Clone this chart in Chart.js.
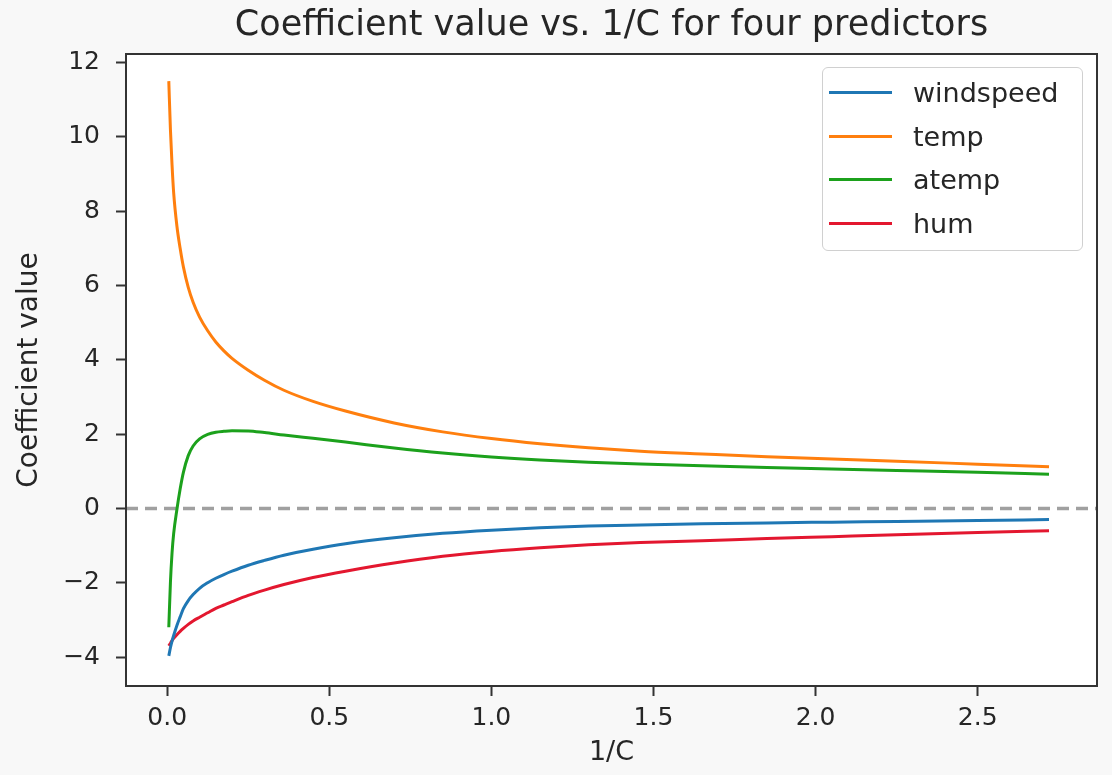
<!DOCTYPE html>
<html>
<head>
<meta charset="utf-8">
<script src="https://cdn.jsdelivr.net/npm/chart.js@4.4.1/dist/chart.umd.min.js"></script>
<style>
  html, body { margin: 0; padding: 0; background: #f8f8f8; }
  #wrap { position: relative; width: 1112px; height: 775px; }
  #title {
    position: absolute; left: 126px; width: 971px; top: 2px; height: 42px; line-height: 42px;
    text-align: center; white-space: nowrap;
    font-family: "DejaVu Sans", sans-serif; font-size: 35px; color: #262626;
  }
  #legend {
    position: absolute; left: 822px; top: 67px; width: 261px; height: 184px;
    box-sizing: border-box; border: 1px solid #d0d0d0; border-radius: 6px;
    background: rgba(255,255,255,0.85); padding-top: 3px;
    font-family: "DejaVu Sans", sans-serif; font-size: 27px; color: #262626;
  }
  .row { height: 43.5px; display: flex; align-items: center; }
  .swatch { width: 63px; height: 3px; margin-left: 6px; margin-right: 21px; }
</style>
</head>
<body>
<div id="wrap">
  <canvas id="c" width="1112" height="775"></canvas>
  <div id="title"></div>
  <div id="legend"></div>
</div>
<script>
const titleText = "Coefficient value vs. 1/C for four predictors";
const xTitle = "1/C";
const yTitle = "Coefficient value";

const xValues = [0.005, 0.01, 0.015, 0.02, 0.03, 0.04, 0.05, 0.065, 0.08, 0.1, 0.125, 0.15, 0.175, 0.2, 0.25, 0.3, 0.36, 0.45, 0.55, 0.7, 0.85, 1.0, 1.15, 1.3, 1.46, 1.65, 1.85, 2.05, 2.25, 2.5, 2.72];

const windspeed = [-3.97, -3.75, -3.57, -3.42, -3.15, -2.92, -2.70, -2.48, -2.32, -2.15, -2.0, -1.88, -1.78, -1.69, -1.53, -1.40, -1.26, -1.10, -0.95, -0.79, -0.67, -0.585, -0.52, -0.475, -0.445, -0.415, -0.39, -0.37, -0.35, -0.325, -0.30];
const temp = [11.5, 10.2, 9.25, 8.5, 7.6, 7.0, 6.5, 5.95, 5.55, 5.15, 4.78, 4.48, 4.24, 4.04, 3.72, 3.45, 3.18, 2.88, 2.62, 2.3, 2.06, 1.88, 1.74, 1.63, 1.54, 1.465, 1.39, 1.33, 1.27, 1.19, 1.12];
const atemp = [-3.2, -2.0, -1.2, -0.68, -0.03, 0.52, 0.97, 1.42, 1.68, 1.87, 1.99, 2.05, 2.075, 2.09, 2.085, 2.04, 1.975, 1.885, 1.785, 1.625, 1.49, 1.385, 1.305, 1.245, 1.195, 1.145, 1.10, 1.06, 1.02, 0.97, 0.92];
const hum = [-3.7, -3.63, -3.56, -3.5, -3.4, -3.31, -3.23, -3.12, -3.03, -2.93, -2.81, -2.69, -2.6, -2.51, -2.34, -2.2, -2.05, -1.86, -1.69, -1.47, -1.29, -1.16, -1.06, -0.98, -0.92, -0.87, -0.81, -0.76, -0.71, -0.65, -0.6];

const seriesNames = ["windspeed", "temp", "atemp", "hum"];
const seriesColors = ["#1f77b4", "#ff7f0e", "#1ca11c", "#e3172f"];
const seriesData = [windspeed, temp, atemp, hum];

const xTicks = [0, 0.5, 1.0, 1.5, 2.0, 2.5];
const yTicks = [-4, -2, 0, 2, 4, 6, 8, 10, 12];
const refLineValue = 0;

const FONT = "'DejaVu Sans', sans-serif";
const TEXT = "#262626";
const AXIS = "#333333";

document.getElementById('title').textContent = titleText;

const datasets = seriesNames.map((name, i) => ({
  label: name,
  data: xValues.map((x, j) => ({ x: x, y: seriesData[i][j] })),
  borderColor: seriesColors[i],
  backgroundColor: seriesColors[i],
  borderWidth: 3,
  pointRadius: 0,
  cubicInterpolationMode: 'monotone',
  fill: false
}));

const framePlugin = {
  id: 'frame',
  beforeDraw(chart) {
    const { ctx, chartArea: a } = chart;
    ctx.save();
    ctx.fillStyle = '#ffffff';
    ctx.fillRect(a.left, a.top, a.right - a.left, a.bottom - a.top);
    ctx.restore();
  },
  beforeDatasetsDraw(chart) {
    const { ctx, chartArea: a, scales } = chart;
    const y = scales.y.getPixelForValue(refLineValue);
    ctx.save();
    ctx.strokeStyle = '#a0a0a0';
    ctx.lineWidth = 3.5;
    ctx.setLineDash([12, 7]);
    ctx.beginPath();
    ctx.moveTo(a.left, y);
    ctx.lineTo(a.right, y);
    ctx.stroke();
    ctx.restore();
  },
  afterDraw(chart) {
    const { ctx, chartArea: a } = chart;
    ctx.save();
    ctx.strokeStyle = AXIS;
    ctx.lineWidth = 2;
    ctx.strokeRect(a.left, a.top, a.right - a.left, a.bottom - a.top);
    ctx.restore();
  }
};

const chart = new Chart(document.getElementById('c'), {
  type: 'line',
  data: { datasets },
  plugins: [framePlugin],
  options: {
    responsive: false,
    animation: false,
    layout: { padding: { left: 0, right: 15, top: 54, bottom: 0 } },
    plugins: {
      legend: { display: false },
      tooltip: { enabled: false },
      title: { display: false }
    },
    scales: {
      x: {
        type: 'linear', min: -0.127, max: 2.868,
        afterBuildTicks(s) { s.ticks = xTicks.map(v => ({ value: v })); },
        afterFit(s) { s.height = 89; },
        grid: { drawOnChartArea: false, drawTicks: true, tickLength: 10, tickColor: AXIS, tickWidth: 2 },
        border: { display: true, color: AXIS, width: 2 },
        ticks: { color: TEXT, font: { family: FONT, size: 25 }, padding: 7, maxRotation: 0,
                 callback: v => Number(v).toFixed(1) },
        title: { display: true, text: xTitle, color: TEXT, font: { family: FONT, size: 27 }, padding: { top: 0, bottom: 6 } }
      },
      y: {
        type: 'linear', min: -4.78, max: 12.23,
        afterBuildTicks(s) { s.ticks = yTicks.map(v => ({ value: v })); },
        afterFit(s) { s.width = 126; },
        grid: { drawOnChartArea: false, drawTicks: true, tickLength: 10, tickColor: AXIS, tickWidth: 2 },
        border: { display: true, color: AXIS, width: 2 },
        ticks: { color: TEXT, font: { family: FONT, size: 25 }, padding: 16,
                 callback: v => (v < 0 ? '\u2212' + Math.abs(v) : String(v)) },
        title: { display: true, text: yTitle, color: TEXT, font: { family: FONT, size: 28 }, padding: { top: 13, bottom: 0 } }
      }
    }
  }
});

// HTML legend built from the chart's datasets
const legendEl = document.getElementById('legend');
chart.data.datasets.forEach(ds => {
  const row = document.createElement('div');
  row.className = 'row';
  const sw = document.createElement('span');
  sw.className = 'swatch';
  sw.style.background = ds.borderColor;
  const tx = document.createElement('span');
  tx.textContent = ds.label;
  row.appendChild(sw);
  row.appendChild(tx);
  legendEl.appendChild(row);
});
</script>
</body>
</html>
